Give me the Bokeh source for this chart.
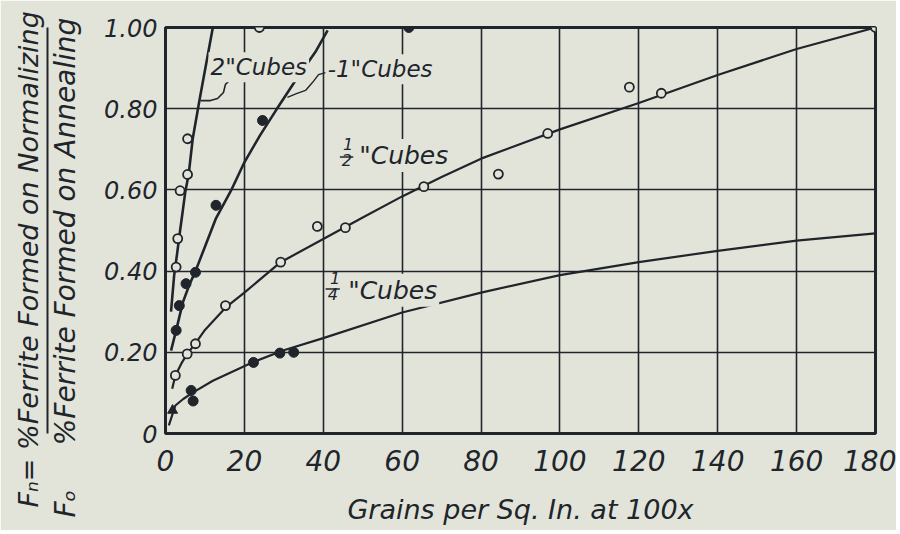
from bokeh.plotting import figure
from bokeh.models import Range1d, FixedTicker, Label, Title, LinearAxis
from bokeh.embed import file_html
from bokeh.resources import INLINE

PAPER = "#e3e4d9"
INK = "#20252c"
FONT = "DejaVu Sans"
NB = "\u00a0"

# ---- axes ----
x_ticks = [0, 20, 40, 60, 80, 100, 120, 140, 160, 180]
x_tick_labels = ["0", "20", "40", "60", "80", "100", "120", "140", "160", "180"]
y_ticks = [0, 0.2, 0.4, 0.6, 0.8, 1.0]
y_tick_labels = ["0", "0.20", "0.40", "0.60", "0.80", "1.00"]
x_title = "Grains per Sq. In. at 100x"
y_title_num = "F\u2099=" + NB + "%Ferrite Formed on Normalizing"
y_title_den = "F\u2092" + NB * 5 + "%Ferrite Formed on Annealing"

# ---- 2" cubes (open circles) ----
two_pts_x = [2.7, 3.1, 3.7, 5.6, 5.6, 23.8]
two_pts_y = [0.41, 0.48, 0.598, 0.638, 0.726, 1.00]
two_curve_x = [1.4, 2.2, 2.9, 3.7, 4.4, 5.0, 5.9, 6.9, 8.6, 12.0]
two_curve_y = [0.30, 0.39, 0.44, 0.50, 0.55, 0.594, 0.64, 0.726, 0.82, 1.00]

# ---- 1" cubes (filled circles) ----
one_pts_x = [2.7, 3.5, 5.2, 7.6, 12.8, 24.6, 61.7]
one_pts_y = [0.254, 0.315, 0.369, 0.397, 0.562, 0.771, 1.00]
one_curve_x = [1.4, 2.7, 4.4, 6.0, 7.6, 10.0, 12.8, 16.6, 20.0, 24.0, 28.0, 33.0, 38.2, 41.1]
one_curve_y = [0.204, 0.254, 0.323, 0.365, 0.40, 0.46, 0.53, 0.598, 0.668, 0.735, 0.796, 0.87, 0.943, 0.993]

# ---- 1/2" cubes (open circles) ----
half_pts_x = [2.5, 5.5, 7.6, 15.2, 29.2, 38.5, 45.6, 65.5, 84.4, 96.9, 117.6, 125.7, 180.0]
half_pts_y = [0.143, 0.196, 0.221, 0.315, 0.422, 0.51, 0.507, 0.608, 0.639, 0.739, 0.853, 0.838, 1.00]
half_curve_x = [1.7, 2.5, 4.0, 5.5, 7.6, 10.0, 15.2, 20.0, 29.2, 40.0, 50.0, 60.0, 70.0, 80.0, 100.0, 120.0, 140.0, 160.0, 180.0]
half_curve_y = [0.11, 0.143, 0.172, 0.196, 0.222, 0.255, 0.31, 0.347, 0.422, 0.479, 0.532, 0.584, 0.632, 0.677, 0.749, 0.814, 0.883, 0.947, 1.00]

# ---- 1/4" cubes (filled circles) ----
quarter_pts_x = [1.8, 6.5, 7.0, 22.3, 29.0, 32.5]
quarter_pts_y = [0.057, 0.106, 0.08, 0.175, 0.198, 0.20]
quarter_pts_marker = ["triangle", "circle", "circle", "circle", "circle", "circle"]
quarter_curve_x = [0.85, 2.5, 4.5, 6.8, 12.0, 22.0, 30.0, 40.0, 60.0, 80.0, 100.0, 120.0, 140.0, 160.0, 180.0]
quarter_curve_y = [0.02, 0.069, 0.085, 0.10, 0.13, 0.175, 0.205, 0.235, 0.298, 0.347, 0.39, 0.422, 0.45, 0.475, 0.493]

# ---- label leader paths ----
lead_two_x = [18.3, 16.5, 15.2, 14.7, 13.2, 11.4, 8.9]
lead_two_y = [0.877, 0.872, 0.860, 0.840, 0.825, 0.820, 0.820]
lead_one_x = [40.6, 38.8, 37.3, 35.5, 33.2, 30.9]
lead_one_y = [0.889, 0.884, 0.865, 0.845, 0.837, 0.828]

p = figure(frame_width=710, frame_height=406,
           x_range=Range1d(0, 180), y_range=Range1d(0, 1),
           output_backend="svg", toolbar_location=None,
           min_border_left=165, min_border_right=21,
           min_border_top=27, min_border_bottom=97,
           background_fill_color=PAPER, border_fill_color=PAPER)
p.title.visible = False
p.outline_line_color = INK
p.outline_line_width = 3

for ax in (p.xaxis[0], p.yaxis[0]):
    ax.axis_line_color = None
    ax.major_tick_in = 0
    ax.major_tick_out = 0
    ax.minor_tick_in = 0
    ax.minor_tick_out = 0
    ax.major_label_text_font = FONT
    ax.major_label_text_font_style = "italic"
    ax.major_label_text_color = INK

p.xaxis.ticker = FixedTicker(ticks=x_ticks)
p.xaxis.major_label_overrides = dict(zip(x_ticks, x_tick_labels))
p.xaxis.major_label_text_font_size = "28px"
p.xaxis.major_label_standoff = 16
p.xaxis.axis_label = x_title
p.xaxis.axis_label_text_font = FONT
p.xaxis.axis_label_text_font_style = "italic"
p.xaxis.axis_label_text_font_size = "27px"
p.xaxis.axis_label_text_color = INK
p.xaxis.axis_label_standoff = 20

p.yaxis.ticker = FixedTicker(ticks=y_ticks)
p.yaxis.major_label_overrides = dict(zip(y_ticks, y_tick_labels))
p.yaxis.major_label_text_font_size = "24px"
p.yaxis.major_label_standoff = 8
# blank spacer label that widens the tick-label panel a little
p.yaxis.axis_label = NB
p.yaxis.axis_label_text_font_size = "1px"
p.yaxis.axis_label_standoff = 12

p.xgrid.ticker = FixedTicker(ticks=x_ticks)
p.ygrid.ticker = FixedTicker(ticks=y_ticks)
for g in (p.xgrid[0], p.ygrid[0]):
    g.grid_line_color = INK
    g.grid_line_width = 1.6
    g.grid_line_alpha = 1.0

# ---- y-axis title: two stacked lines with the fraction bar between ----
inner = Title(text=y_title_den, align="left", offset=-84, standoff=2,
              vertical_align="top",
              text_font=FONT, text_font_style="italic", text_font_size="28px",
              text_color=INK)
p.add_layout(inner, "left")
bar = LinearAxis(ticker=FixedTicker(ticks=[]), axis_line_color=INK, axis_line_width=2,
                 major_tick_in=0, major_tick_out=0, minor_tick_in=0, minor_tick_out=0,
                 major_label_text_font_size="0px")
p.add_layout(bar, "left")
outer = Title(text=y_title_num, align="left", offset=-74, standoff=4,
              vertical_align="top",
              text_font=FONT, text_font_style="italic", text_font_size="27px",
              text_color=INK)
p.add_layout(outer, "left")


def txt(text, x, y, size, align="left", bg=False):
    lab = Label(x=x, y=y, text=text,
                text_font=FONT, text_font_style="italic",
                text_font_size=size, text_color=INK,
                text_align=align, text_baseline="alphabetic")
    if bg:
        lab.background_fill_color = PAPER
        lab.background_fill_alpha = 1.0
        lab.padding = 2
    p.add_layout(lab)
    return lab


# curves
p.line(two_curve_x, two_curve_y, line_color=INK, line_width=2.6)
p.line(one_curve_x, one_curve_y, line_color=INK, line_width=2.6)
p.line(half_curve_x, half_curve_y, line_color=INK, line_width=2.2)
p.line(quarter_curve_x, quarter_curve_y, line_color=INK, line_width=2.2)

# leaders
p.line(lead_two_x, lead_two_y, line_color=INK, line_width=1.6)
p.line(lead_one_x, lead_one_y, line_color=INK, line_width=1.4)

# points
p.scatter(two_pts_x, two_pts_y, marker="circle", size=9, fill_color=PAPER, line_color=INK, line_width=1.8)
p.scatter(half_pts_x, half_pts_y, marker="circle", size=9, fill_color=PAPER, line_color=INK, line_width=1.8)
p.scatter(one_pts_x, one_pts_y, marker="circle", size=10, fill_color=INK, line_color=INK)
p.scatter(quarter_pts_x, quarter_pts_y, marker=quarter_pts_marker, size=10, fill_color=INK, line_color=INK)

# series labels
txt('2"Cubes', 10.9, 0.902, "23px", bg=True)
txt('-1"Cubes', 40.6, 0.897, "23px", bg=True)

txt("1", 46.3, 0.712, "16px", align="center")
p.segment([44.2], [0.681], [47.6], [0.681], line_color=INK, line_width=1.5)
txt("2", 46.0, 0.673, "16px", align="center")
txt('"Cubes', 48.6, 0.685, "25px", bg=True)

txt("1", 43.0, 0.382, "16px", align="center")
p.segment([40.6], [0.356], [44.2], [0.356], line_color=INK, line_width=1.5)
txt("4", 42.4, 0.343, "16px", align="center")
txt('"Cubes', 45.8, 0.353, "25px", bg=True)

open("out.html", "w").write(file_html(p, INLINE))
